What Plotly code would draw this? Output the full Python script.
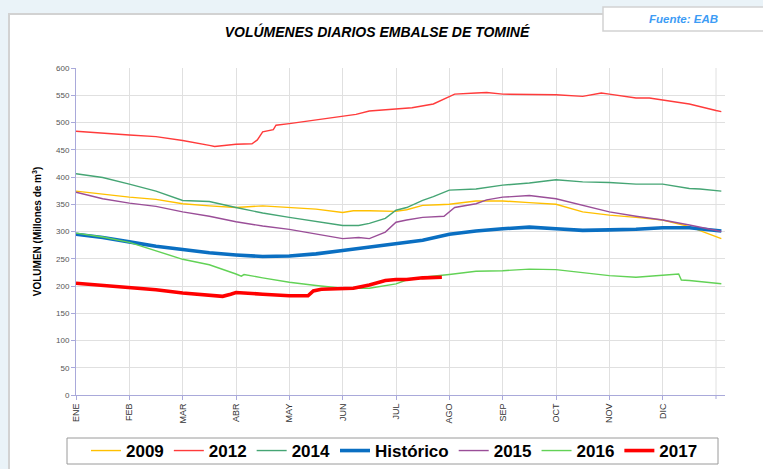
import plotly.graph_objects as go

# ---- data (x = months elapsed since 1 Jan; y = volume, millions m3) ----
month_labels = ["ENE", "FEB", "MAR", "ABR", "MAY", "JUN", "JUL", "AGO", "SEP", "OCT", "NOV", "DIC"]
month_ticks = list(range(12))
year_end = 12

x_2009 = [0, 0.5, 1, 1.5, 2, 2.5, 3, 3.5, 4, 4.5, 5, 5.2, 5.5, 6, 6.2, 6.5, 6.8, 7, 7.5, 8, 8.5, 9, 9.5, 10, 10.5, 11, 11.5, 12.1]
y_2009 = [374, 368, 363, 359, 351, 347, 344, 347, 344, 341, 335, 338, 338, 337, 340, 348, 349, 350, 356, 356, 353, 350, 336, 330, 326, 321, 309, 287]

x_2012 = [0, 0.5, 1, 1.5, 2, 2.5, 2.6, 3, 3.3, 3.4, 3.5, 3.7, 3.75, 4, 4.5, 5, 5.25, 5.5, 6, 6.3, 6.7, 6.9, 7.1, 7.5, 7.7, 8, 8.5, 9, 9.5, 9.85, 10, 10.5, 10.75, 11, 11.5, 12, 12.1]
y_2012 = [484, 480, 477, 474, 467, 458, 456, 460, 461, 468, 483, 487, 495, 498, 505, 511, 515, 521, 525, 527, 534, 543, 552, 554, 555, 552, 552, 551, 548, 554, 552, 545, 545, 541, 534, 522, 520]

x_2014 = [0, 0.5, 1, 1.5, 2, 2.5, 3, 3.5, 4, 4.5, 5, 5.3, 5.5, 5.8, 6, 6.2, 6.5, 6.7, 7, 7.5, 8, 8.5, 9, 9.5, 10, 10.5, 11, 11.5, 11.7, 12.1]
y_2014 = [406, 399, 387, 374, 357, 355, 344, 334, 326, 318, 311, 311, 315, 324, 339, 344, 357, 364, 376, 378, 385, 389, 395, 391, 390, 387, 387, 379, 378, 374]

x_hist = [0, 0.5, 1, 1.5, 2, 2.5, 3, 3.5, 4, 4.5, 5, 5.5, 6, 6.5, 7, 7.5, 8, 8.5, 9, 9.5, 10, 10.5, 11, 11.5, 12.1]
y_hist = [295, 289, 281, 273, 267, 261, 257, 254, 255, 259, 265, 271, 278, 284, 295, 301, 305, 308, 305, 302, 303, 304, 307, 307, 301]

x_2015 = [0, 0.5, 1, 1.5, 2, 2.5, 3, 3.5, 4, 4.5, 5, 5.3, 5.5, 5.8, 6, 6.2, 6.5, 6.9, 7.1, 7.5, 7.7, 8, 8.5, 9, 9.5, 10, 10.5, 11, 11.5, 12.1]
y_2015 = [372, 360, 352, 346, 336, 328, 318, 310, 304, 296, 287, 289, 287, 299, 317, 321, 326, 328, 344, 351, 358, 363, 366, 360, 348, 336, 328, 321, 312, 300]

x_2016 = [0, 0.5, 1, 1.5, 2, 2.5, 2.75, 3, 3.1, 3.15, 3.5, 4, 4.5, 5, 5.5, 6, 6.2, 6.5, 7, 7.5, 8, 8.5, 9, 9.5, 10, 10.5, 11, 11.3, 11.35, 11.5, 12.1]
y_2016 = [297, 290, 280, 265, 249, 239, 231, 222, 218, 221, 215, 207, 201, 196, 196, 204, 211, 216, 221, 227, 228, 231, 230, 225, 219, 216, 220, 222, 211, 210, 204]

x_2017 = [0, 0.5, 1, 1.5, 2, 2.5, 2.75, 2.9, 3, 3.5, 4, 4.35, 4.45, 4.6, 5, 5.2, 5.5, 5.8, 6, 6.2, 6.5, 6.86]
y_2017 = [205, 201, 198, 193, 187, 182, 181, 185, 188, 185, 182, 182, 191, 194, 195, 196, 202, 210, 212, 212, 215, 216]

series = [
    ("2009", x_2009, y_2009, "#FFC000", 1.4),
    ("2012", x_2012, y_2012, "#FF3B3B", 1.4),
    ("2014", x_2014, y_2014, "#45A574", 1.4),
    ("Histórico", x_hist, y_hist, "#0A6FC2", 3.6),
    ("2015", x_2015, y_2015, "#9A4E98", 1.4),
    ("2016", x_2016, y_2016, "#62D256", 1.4),
    ("2017", x_2017, y_2017, "#FF0000", 3.6),
]

# ---- layout geometry helpers (pixels -> paper) ----
W, H = 763, 469
L, R, T, B = 76, 38, 68, 74
PW, PH = W - L - R, H - T - B


def px(x):
    return (x - L) / PW


def py(y):
    return (H - B - y) / PH


fig = go.Figure()
for name, xs, ys, col, lw in series:
    fig.add_trace(go.Scatter(x=xs, y=ys, mode="lines", name=name,
                             line=dict(color=col, width=lw)))

font_fam = "Liberation Sans, Arial, sans-serif"
axis_col = "#A9A9DA"
grid_col = "#E0E0E0"

fig.update_layout(
    width=W, height=H,
    margin=dict(l=L, r=R, t=T, b=B, autoexpand=False),
    paper_bgcolor="#EAF3F8",
    plot_bgcolor="white",
    font=dict(family=font_fam),
    title=dict(text="VOLÚMENES DIARIOS EMBALSE DE TOMINÉ",
               x=377 / W, xanchor="center", y=1 - 32 / H, yanchor="middle",
               font=dict(family=font_fam, size=14, color="black", weight="bold", style="italic")),
    showlegend=True,
    legend=dict(orientation="h", x=px(394.5), xanchor="center", y=py(451), yanchor="middle",
                bgcolor="rgba(0,0,0,0)", borderwidth=0,
                font=dict(family=font_fam, size=17, color="black", weight="bold")),
    xaxis=dict(range=[0, PW / (640 / 12)], tickvals=month_ticks, ticktext=month_labels,
               tickangle=-90, tickfont=dict(size=9, color="#333333"),
               showgrid=True, gridcolor=grid_col, gridwidth=1,
               showline=True, linecolor=axis_col, linewidth=1,
               ticks="outside", ticklen=4, tickcolor=axis_col, zeroline=False),
    yaxis=dict(range=[0, 600], dtick=50, tickfont=dict(size=8, color="#555555"),
               showgrid=True, gridcolor=grid_col, gridwidth=1,
               showline=True, linecolor=axis_col, linewidth=1,
               ticks="outside", ticklen=4, tickcolor=axis_col, zeroline=False,
               title=dict(text="VOLUMEN (Millones de m<sup>3</sup>)", standoff=12,
                          font=dict(size=10, color="black", weight="bold"))),
    shapes=[
        dict(type="rect", xref="paper", yref="paper", layer="below",
             x0=px(9), x1=px(790), y0=py(490), y1=py(14),
             fillcolor="white", line=dict(color="#D2D2D2", width=2)),
        dict(type="rect", xref="paper", yref="paper", layer="below",
             x0=px(603), x1=px(790), y0=py(31), y1=py(7),
             fillcolor="white", line=dict(color="#D2D2D2", width=1.5)),
        dict(type="rect", xref="paper", yref="paper", layer="below",
             x0=px(67), x1=px(718), y0=py(464), y1=py(438),
             fillcolor="white", line=dict(color="#9A9A9A", width=1)),
        # year-end gridline and tick
        dict(type="line", xref="x", yref="paper", layer="below",
             x0=year_end, x1=year_end, y0=0, y1=1,
             line=dict(color=grid_col, width=1)),
        dict(type="line", xref="x", yref="paper", layer="above",
             x0=year_end, x1=year_end, y0=py(395), y1=py(399),
             line=dict(color=axis_col, width=1)),
    ],
    annotations=[
        dict(text="<b><i>Fuente: EAB</i></b>", xref="paper", yref="paper",
             x=px(683), y=py(19), xanchor="center", yanchor="middle", showarrow=False,
             font=dict(family=font_fam, size=11.5, color="#3D9CF5")),
    ],
)

fig.write_html("out.html", config={"displayModeBar": False},
               post_script="document.body.style.margin='0';document.body.style.overflow='hidden';")
